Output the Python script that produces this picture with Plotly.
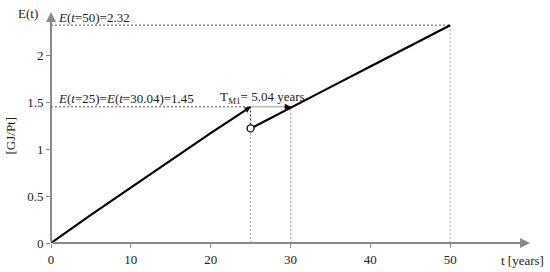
import plotly.graph_objects as go

# E(t) before the step at t=25 and after it
t_first = [0, 5, 10, 15, 20, 25]
e_first = [0, 0.30, 0.59, 0.88, 1.17, 1.45]
t_second = [25, 30.04, 35, 40, 45, 50]
e_second = [1.22, 1.445, 1.66, 1.88, 2.10, 2.32]

t_step = 25
t_equal = 30.04
t_end = 50
e_equal = 1.45
e_end = 2.32
e_drop = 1.22

x_ticks = [0, 10, 20, 30, 40, 50]
y_ticks = [0, 0.5, 1, 1.5, 2]
y_tick_text = ["0", "0.5", "1", "1.5", "2"]

serif = "'Liberation Serif', 'Times New Roman', serif"
grey = "#8a8a8a"

fig = go.Figure()

# guide lines
guide = dict(color="#555", width=1, dash="2px,2px")
vguide = dict(color="#aaa", width=1, dash="2px,2px")
fig.add_trace(go.Scatter(x=[0, t_end], y=[e_end, e_end], mode="lines", line=guide))
fig.add_trace(go.Scatter(x=[t_end, t_end], y=[0, e_end], mode="lines", line=vguide))
fig.add_trace(go.Scatter(x=[0, t_step], y=[e_equal, e_equal], mode="lines", line=guide))
fig.add_trace(go.Scatter(x=[t_step, t_step], y=[0, e_drop], mode="lines", line=vguide))
fig.add_trace(go.Scatter(x=[t_step, t_step], y=[e_drop, e_equal], mode="lines",
                         line=dict(color="#222", width=1, dash="2px,2px")))
fig.add_trace(go.Scatter(x=[t_equal, t_equal], y=[0, e_equal], mode="lines", line=vguide))
fig.add_trace(go.Scatter(x=[t_step, t_equal], y=[e_equal, e_equal], mode="lines",
                         line=dict(color="#999", width=1)))

# the curve itself
fig.add_trace(go.Scatter(x=t_first, y=e_first, mode="lines", line=dict(color="black", width=2.2)))
fig.add_trace(go.Scatter(x=t_second, y=e_second, mode="lines", line=dict(color="black", width=2.2)))
fig.add_trace(go.Scatter(x=[t_step], y=[e_drop], mode="markers",
                         marker=dict(size=7, color="white", line=dict(color="black", width=1.3))))

annotations = [
    # axis arrows
    dict(x=60, y=0, ax=0, ay=0, xref="x", yref="y", axref="x", ayref="y", text="",
         showarrow=True, arrowhead=2, arrowsize=1, arrowwidth=2, arrowcolor=grey),
    dict(x=0, y=2.46, ax=0, ay=0, xref="x", yref="y", axref="x", ayref="y", text="",
         showarrow=True, arrowhead=2, arrowsize=1, arrowwidth=2, arrowcolor=grey),
    # small arrowheads
    dict(x=t_equal, y=e_equal, ax=t_equal - 1, ay=e_equal, xref="x", yref="y", axref="x", ayref="y",
         text="", showarrow=True, arrowhead=2, arrowsize=1.2, arrowwidth=1, arrowcolor="black"),
    dict(x=t_step, y=e_equal, ax=t_step - 0.6, ay=e_equal - 0.035, xref="x", yref="y", axref="x", ayref="y",
         text="", showarrow=True, arrowhead=2, arrowsize=0.6, arrowwidth=2, arrowcolor="black"),
    # texts
    dict(x=0.6, y=2.32, xref="x", yref="y", text="<i>E</i>(<i>t</i>=50)=2.32", showarrow=False,
         xanchor="left", yanchor="bottom", yshift=-2),
    dict(x=0.6, y=1.45, xref="x", yref="y", text="<i>E</i>(<i>t</i>=25)=<i>E</i>(<i>t</i>=30.04)=1.45",
         showarrow=False, xanchor="left", yanchor="bottom", yshift=-1),
    dict(x=20.9, y=1.45, xref="x", yref="y", text="T<sub>M1</sub>= 5.04 years", showarrow=False,
         xanchor="left", yanchor="bottom", yshift=-1),
    dict(x=0, y=1, xref="paper", yref="paper", text="E(t)", showarrow=False,
         xanchor="right", yanchor="middle", xshift=-11, yshift=-1),
    dict(x=0, y=0.5, xref="paper", yref="paper", text="[GJ/Pt]", showarrow=False, textangle=-90,
         xanchor="center", yanchor="middle", xshift=-41, yshift=-8),
    dict(x=1, y=0, xref="paper", yref="paper", text="t [years]", showarrow=False,
         xanchor="right", yanchor="top", xshift=16, yshift=-8),
]

fig.update_layout(
    width=550, height=272,
    margin=dict(l=51, r=20, t=12, b=29),
    plot_bgcolor="white", paper_bgcolor="white",
    showlegend=False,
    font=dict(family=serif, size=13, color="#222"),
    annotations=annotations,
)
fig.update_xaxes(range=[0, 60], tickvals=x_ticks, showgrid=False, zeroline=False, automargin=False,
                 showline=False, ticks="outside", ticklen=4, tickcolor=grey, tickwidth=1)
fig.update_yaxes(range=[0, 2.46], tickvals=y_ticks, ticktext=y_tick_text, showgrid=False, automargin=False,
                 zeroline=False, showline=False, ticks="outside", ticklen=4, tickcolor=grey, tickwidth=1)

# page has a default body margin, drop it so the figure fills the window
fig.write_html("out.html", config={"displayModeBar": False},
               post_script="document.body.style.margin='0';")
